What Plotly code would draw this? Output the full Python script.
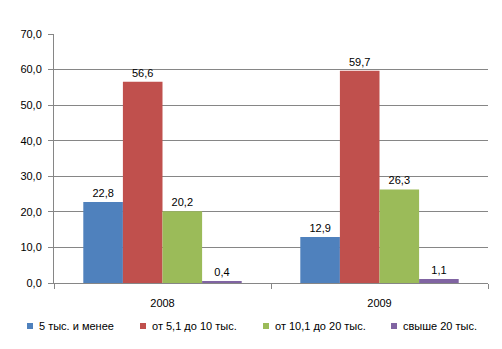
import plotly.graph_objects as go

years = ["2008", "2009"]
series_names = ["5 тыс. и менее", "от 5,1 до 10 тыс.", "от 10,1 до 20 тыс.", "свыше 20 тыс."]
values = [
    [22.8, 12.9],
    [56.6, 59.7],
    [20.2, 26.3],
    [0.4, 1.1],
]
colors = ["#4F81BD", "#C0504D", "#9BBB59", "#8064A2"]
y_ticks = [0, 10, 20, 30, 40, 50, 60, 70]

font_family = "Liberation Sans, Arial, sans-serif"

W, H = 502, 349
L, R, T, B = 54, 14, 34, 66
pw, ph = W - L - R, H - T - B

fig = go.Figure()
for name, vals, col in zip(series_names, values, colors):
    fig.add_trace(go.Bar(
        x=years, y=vals, name=name, marker=dict(color=col, line=dict(width=0)),
        text=vals, texttemplate="%{y:.1f}", textposition="outside",
        textfont=dict(family=font_family, size=11, color="#000000"),
        cliponaxis=False, showlegend=False,
    ))

# custom legend (pixel positions converted to paper coords)
legend_marker_px = [27, 140, 263, 391]
legend_y_px = 326
shapes = []
annotations = []
for name, col, mx in zip(series_names, colors, legend_marker_px):
    x0 = (mx - L) / pw
    x1 = (mx + 6 - L) / pw
    y0 = (T + ph - (legend_y_px + 3)) / ph
    y1 = (T + ph - (legend_y_px - 3)) / ph
    shapes.append(dict(type="rect", xref="paper", yref="paper", x0=x0, x1=x1, y0=y0, y1=y1,
                       fillcolor=col, line=dict(width=0)))
    annotations.append(dict(xref="paper", yref="paper", x=(mx + 10 - L) / pw,
                            y=(T + ph - legend_y_px) / ph, xanchor="left", yanchor="middle",
                            text=name, showarrow=False,
                            font=dict(family=font_family, size=11, color="#000000")))

fig.update_layout(
    width=W, height=H,
    margin=dict(l=L, r=R, t=T, b=B, autoexpand=False),
    paper_bgcolor="white", plot_bgcolor="white",
    separators=", ",
    barmode="group", bargap=0.27, bargroupgap=0,
    font=dict(family=font_family, size=11, color="#000000"),
    showlegend=False,
    shapes=shapes, annotations=annotations,
    xaxis=dict(type="category", showline=True, linecolor="#868686", linewidth=1,
               ticks="outside", ticklen=5, tickcolor="#868686", tickson="boundaries",
               ticklabelstandoff=10,
               showgrid=False, tickfont=dict(size=11, color="#000000")),
    yaxis=dict(range=[0, 70], tickvals=y_ticks, tickformat=".1f",
               showline=True, linecolor="#868686", linewidth=1,
               ticks="outside", ticklen=5, tickcolor="#868686",
               ticklabelstandoff=4,
               showgrid=True, gridcolor="#868686", gridwidth=1, zeroline=False,
               tickfont=dict(size=11, color="#000000")),
)

fig.write_html("out.html")
